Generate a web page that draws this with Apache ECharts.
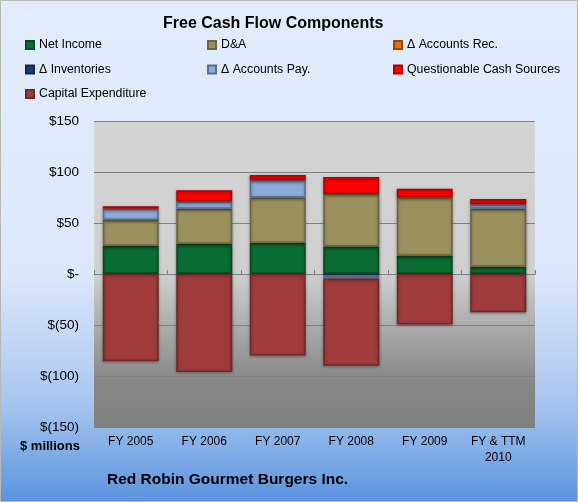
<!DOCTYPE html>
<html><head><meta charset="utf-8">
<script src="https://cdn.jsdelivr.net/npm/echarts@6/dist/echarts.min.js"></script>
<style>html,body{margin:0;padding:0;}#c{width:578px;height:502px;}</style>
</head><body><div id="c"></div>
<script>
const categories = ['FY 2005','FY 2006','FY 2007','FY 2008','FY 2009','FY & TTM\n2010'];
const netIncome   = [27.5, 29.5, 30.5, 27, 18, 7];
const dna         = [25.5, 34.5, 44.5, 51.5, 57, 57];
const accountsRec = [0, 0, 0, 0, 0, 0];
const inventories = [0, 0, 0, -1.5, 0, 0];
const accountsPay = [11, 7, 17, -3, 0, 4.5];
const questionable= [2.5, 11, 5, 16.5, 8.5, 5];
const capex       = [-85.5, -96, -80, -85.5, -49.5, -37.5];
const yTicks = [-150, -100, -50, 0, 50, 100, 150];

const FONT = 'Liberation Sans';
const seriesDefs = [
  ['Net Income', netIncome, '#0a6e32', '#064a21'],
  ['D&A', dna, '#9b915e', '#6b6540'],
  ['\u0394 Accounts Rec.', accountsRec, '#e46c0a', '#9a4807'],
  ['\u0394 Inventories', inventories, '#1f3c6e', '#14284a'],
  ['\u0394 Accounts Pay.', accountsPay, '#8eaad9', '#5a6f92'],
  ['Questionable Cash Sources', questionable, '#ff0000', '#b30000'],
  ['Capital Expenditure', capex, '#a03c3c', '#6e2828']
];
const series = seriesDefs.map(([name, vals, color, border]) => ({
  name, type: 'bar', stack: 'fcf', barWidth: 56, xAxisIndex: 0,
  data: vals.map(v => v === 0 ? null : v),
  itemStyle: { color, borderColor: border, borderWidth: 1.5,
    shadowBlur: 3, shadowColor: 'rgba(0,0,0,0.35)', shadowOffsetY: 1 }
}));

function legendCol(left, names) {
  return { orient: 'vertical', left, top: 38, padding: 0, itemWidth: 8, itemHeight: 8, itemGap: 10.5,
    icon: 'rect', data: names, selectedMode: false,
    textStyle: { fontFamily: FONT, fontSize: 12.3, color: '#000', lineHeight: 14 } };
}

const chart = echarts.init(document.getElementById('c'), null, { renderer: 'canvas' });
chart.setOption({
  animation: false,
  backgroundColor: { type: 'linear', x: 0, y: 0, x2: 0, y2: 1, colorStops: [
    { offset: 0, color: '#e2ecfc' }, { offset: 0.55, color: '#dbe7fb' },
    { offset: 0.8, color: '#a8c6ef' }, { offset: 1, color: '#5a93df' } ] },
  textStyle: { fontFamily: FONT },
  legend: [
    legendCol(25, ['Net Income', '\u0394 Inventories', 'Capital Expenditure']),
    legendCol(207, ['D&A', '\u0394 Accounts Pay.']),
    legendCol(393, ['\u0394 Accounts Rec.', 'Questionable Cash Sources'])
  ],
  grid: { left: 94, right: 43, top: 121, bottom: 75, show: true, borderWidth: 0,
    backgroundColor: { type: 'linear', x: 0, y: 0, x2: 0, y2: 1, colorStops: [
      { offset: 0, color: '#d4d4d4' }, { offset: 0.5, color: '#cfcfcf' },
      { offset: 0.85, color: '#878787' }, { offset: 1, color: '#808080' } ] } },
  xAxis: [
    { type: 'category', data: categories, position: 'bottom',
      axisLine: { show: false, onZero: false }, axisTick: { show: false },
      axisLabel: { fontFamily: FONT, fontSize: 12, color: '#000', margin: 7, lineHeight: 16 } },
    { type: 'category', data: categories, position: 'top',
      axisLine: { show: true, onZero: true, lineStyle: { color: '#808080', width: 1 } },
      axisTick: { show: true, length: 4, lineStyle: { color: '#808080' } },
      axisLabel: { show: false } }
  ],
  yAxis: { type: 'value', min: yTicks[0], max: yTicks[yTicks.length - 1], interval: 50,
    axisLine: { show: false }, axisTick: { show: false },
    splitLine: { lineStyle: { color: '#808080', width: 1 } },
    axisLabel: { fontFamily: FONT, fontSize: 13.5, color: '#000', margin: 15,
      formatter: v => v > 0 ? '$' + v : (v === 0 ? '$-' : '$(' + (-v) + ')') } },
  graphic: [
    { type: 'text', left: 163, top: 16, style: { text: 'Free Cash Flow Components', fontFamily: FONT,
      fontSize: 16, fontWeight: 'bold', fill: '#000' } },
    { type: 'text', left: 20, top: 440, style: { text: '$ millions', fontFamily: FONT,
      fontSize: 13, fontWeight: 'bold', fill: '#000' } },
    { type: 'text', left: 107, top: 472, style: { text: 'Red Robin Gourmet Burgers Inc.', fontFamily: FONT,
      fontSize: 15.5, fontWeight: 'bold', fill: '#000' } },
    { type: 'rect', shape: { x: 0.5, y: 0.5, width: 577, height: 501 }, silent: true,
      style: { fill: 'none', stroke: '#b8b8b8', lineWidth: 1 } }
  ],
  series
});
</script></body></html>
